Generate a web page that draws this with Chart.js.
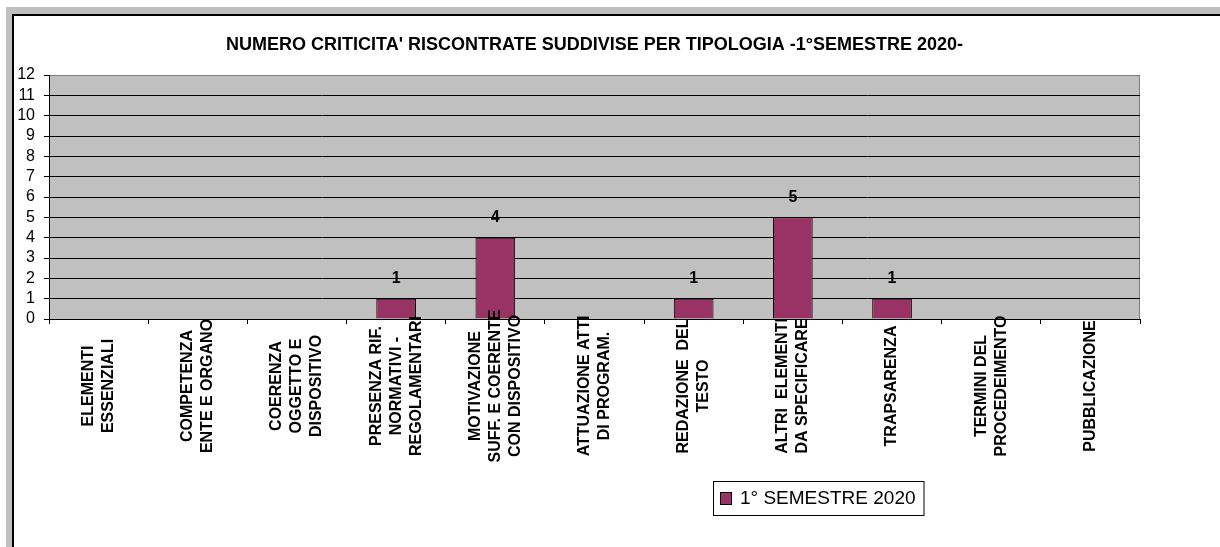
<!DOCTYPE html>
<html>
<head>
<meta charset="utf-8">
<script src="https://cdn.jsdelivr.net/npm/chart.js@4/dist/chart.umd.min.js"></script>
<style>
html, body { margin: 0; padding: 0; background: #fff; overflow: hidden; }
#band { position: absolute; left: 6px; top: 7px; width: 1400px; height: 800px; background: #c0c0c0; }
#frame { position: absolute; left: 12px; top: 14px; width: 1400px; height: 800px; background: #fff;
         border-left: 2px solid #000; border-top: 2px solid #000; }
#chart { position: absolute; left: 0; top: 0; }
</style>
</head>
<body>
<div id="band"></div>
<div id="frame"></div>
<canvas id="chart" width="1220" height="547"></canvas>
<script>
// data
const categories = [
    ["ELEMENTI", "ESSENZIALI"],
    ["COMPETENZA", "ENTE E ORGANO"],
    ["COERENZA", "OGGETTO E", "DISPOSITIVO"],
    ["PRESENZA RIF.", "NORMATIVI -", "REGOLAMENTARI"],
    ["MOTIVAZIONE", "SUFF. E COERENTE", "CON DISPOSITIVO"],
    ["ATTUAZIONE ATTI", "DI PROGRAM."],
    ["REDAZIONE  DEL", "TESTO"],
    ["ALTRI  ELEMENTI", "DA SPECIFICARE"],
    ["TRAPSARENZA"],
    ["TERMINI DEL", "PROCEDEIMENTO"],
    ["PUBBLICAZIONE"]
];
const values = [0, 0, 0, 1, 4, 0, 1, 5, 1, 0, 0];
const seriesName = "1° SEMESTRE 2020";
const chartTitle = "NUMERO CRITICITA' RISCONTRATE SUDDIVISE PER TIPOLOGIA -1°SEMESTRE 2020-";
const yMin = 0, yMax = 12, yStep = 1;

const FONT = "'Liberation Sans', Arial, sans-serif";
const BAR = "#993366";

// grey plot area with a thin grey border
const plotBackground = {
    id: "plotBackground",
    beforeDraw(chart) {
        const { ctx, chartArea: a } = chart;
        ctx.save();
        ctx.fillStyle = "#c0c0c0";
        ctx.fillRect(a.left, a.top, a.right - a.left, a.bottom - a.top);
        ctx.strokeStyle = "#808080";
        ctx.lineWidth = 1;
        ctx.strokeRect(a.left + 0.5, a.top + 0.5, a.right - a.left - 1, a.bottom - a.top);
        ctx.restore();
    }
};

// title, value labels, rotated category labels and legend box
const extras = {
    id: "extras",
    afterDraw(chart) {
        const { ctx, chartArea: a } = chart;
        const xScale = chart.scales.x;
        ctx.save();

        ctx.fillStyle = "#000";
        ctx.font = "bold 18px " + FONT;
        ctx.textAlign = "center";
        ctx.textBaseline = "middle";
        ctx.fillText(chartTitle, (a.left + a.right) / 2, 45);

        const ds = chart.data.datasets[0];
        const meta = chart.getDatasetMeta(0);
        ctx.font = "bold 16px " + FONT;
        meta.data.forEach((bar, i) => {
            if (!ds.data[i]) return;
            ctx.fillText(String(ds.data[i]), bar.x, bar.y - 20);
        });

        ctx.font = "bold 16px " + FONT;
        const lh = 20;
        categories.forEach((lines, i) => {
            const x = xScale.getPixelForValue(i);
            ctx.save();
            ctx.translate(x, 386);
            ctx.rotate(-Math.PI / 2);
            lines.forEach((line, k) => {
                ctx.fillText(line, 0, (k - (lines.length - 1) / 2) * lh);
            });
            ctx.restore();
        });

        // legend
        ctx.font = "19px " + FONT;
        const tw = ctx.measureText(ds.label).width;
        const lx = 713, ly = 481, lhgt = 34;
        const lw = 27 + tw + 8;
        ctx.fillStyle = "#fff";
        ctx.fillRect(lx, ly, lw, lhgt);
        ctx.strokeStyle = "#000";
        ctx.lineWidth = 1;
        ctx.strokeRect(lx + 0.5, ly + 0.5, lw, lhgt);
        ctx.fillStyle = BAR;
        ctx.fillRect(lx + 7, ly + 11, 11, 12);
        ctx.strokeRect(lx + 7.5, ly + 11.5, 11, 12);
        ctx.fillStyle = "#000";
        ctx.textAlign = "left";
        ctx.fillText(ds.label, lx + 27, ly + lhgt / 2 + 1);

        ctx.restore();
    }
};

new Chart(document.getElementById("chart"), {
    type: "bar",
    data: {
        labels: categories,
        datasets: [{
            label: seriesName,
            data: values,
            backgroundColor: BAR,
            borderColor: "#000",
            borderWidth: 1,
            barPercentage: 0.4,
            categoryPercentage: 1
        }]
    },
    options: {
        responsive: false,
        animation: false,
        layout: { padding: { left: 14, top: 75, right: 80, bottom: 223 } },
        plugins: {
            legend: { display: false },
            title: { display: false },
            tooltip: { enabled: false }
        },
        scales: {
            x: {
                ticks: { display: false },
                grid: {
                    offset: true,
                    drawOnChartArea: false,
                    drawTicks: true,
                    tickLength: 5,
                    color: "#000"
                },
                border: { color: "#000", width: 1 },
                afterFit(scale) { scale.height = 5; }
            },
            y: {
                min: yMin,
                max: yMax,
                ticks: {
                    stepSize: yStep,
                    autoSkip: false,
                    padding: 9,
                    color: "#000",
                    font: { family: FONT, size: 16, lineHeight: 1 }
                },
                grid: {
                    color: c => (c.tick && c.tick.value === yMax ? "#808080" : "#000"),
                    tickColor: "#000",
                    tickLength: 5,
                    lineWidth: 1
                },
                border: { color: "#000", width: 1 },
                afterFit(scale) { scale.width = 35; }
            }
        }
    },
    plugins: [plotBackground, extras]
});
</script>
</body>
</html>
